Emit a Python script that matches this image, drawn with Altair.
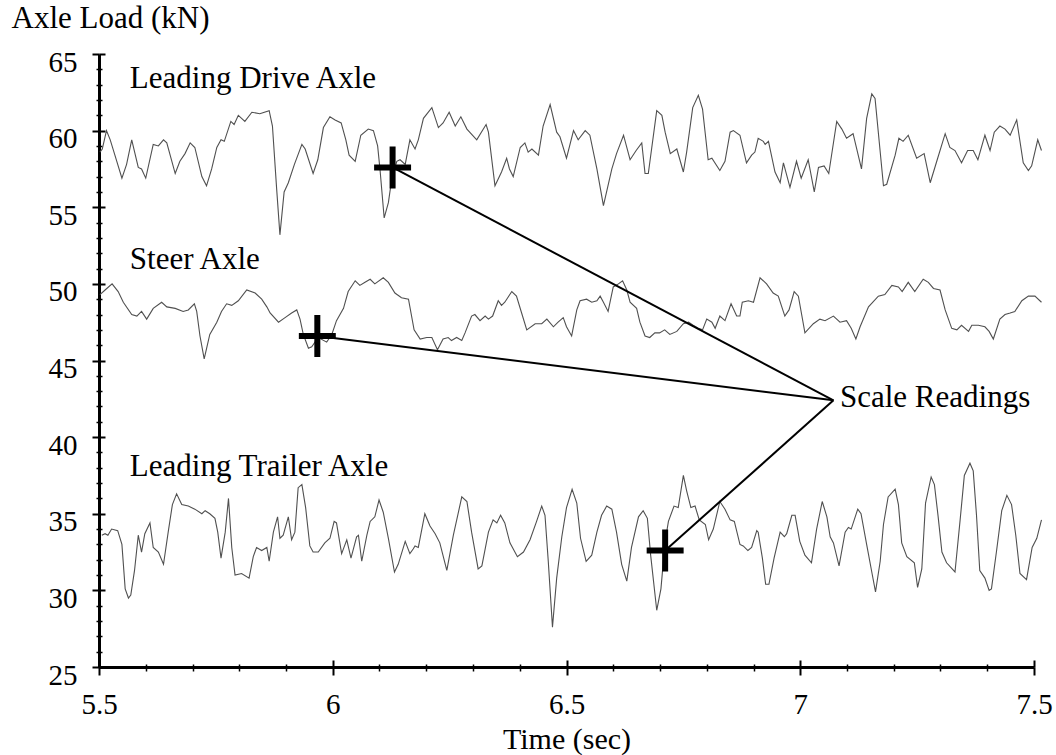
import altair as alt
import pandas as pd

# ---------------- data ----------------
DRIVE = [(5.502,58.6),(5.507,58.8),(5.516,60.0),(5.524,59.4),(5.534,58.4),(5.549,56.9),(5.559,57.8),(5.570,59.4),(5.584,57.6),(5.591,57.5),(5.600,56.9),(5.616,59.1),(5.627,59.0),(5.638,59.4),(5.645,59.2),(5.663,57.2),(5.673,58.0),(5.684,58.5),(5.695,59.2),(5.705,58.9),(5.720,57.0),(5.730,56.4),(5.741,57.5),(5.752,58.9),(5.761,59.4),(5.768,59.3),(5.782,60.6),(5.789,60.4),(5.798,61.0),(5.805,60.8),(5.812,60.6),(5.827,61.2),(5.844,61.1),(5.864,61.3),(5.871,60.3),(5.880,56.2),(5.887,53.2),(5.896,56.0),(5.905,56.6),(5.918,57.8),(5.934,59.1),(5.941,58.8),(5.958,57.2),(5.968,58.1),(5.980,60.2),(5.994,60.9),(6.005,60.7),(6.018,60.5),(6.028,59.4),(6.035,58.4),(6.048,58.0),(6.060,59.7),(6.076,60.1),(6.087,60.0),(6.096,59.0),(6.101,57.5),(6.110,54.3),(6.119,55.3),(6.126,56.8),(6.137,58.0),(6.144,58.1),(6.155,57.8),(6.165,59.4),(6.176,58.8),(6.183,59.4),(6.194,60.8),(6.212,61.5),(6.226,60.2),(6.236,60.5),(6.249,61.2),(6.262,60.3),(6.274,60.9),(6.287,60.1),(6.308,59.4),(6.328,60.4),(6.333,59.9),(6.347,56.4),(6.361,57.3),(6.372,58.2),(6.378,57.5),(6.386,57.0),(6.401,58.9),(6.411,59.2),(6.418,58.6),(6.426,58.8),(6.440,58.4),(6.450,60.3),(6.465,61.7),(6.479,59.9),(6.486,59.6),(6.500,58.2),(6.515,60.0),(6.525,59.4),(6.540,60.0),(6.550,59.7),(6.565,57.5),(6.579,55.1),(6.597,57.5),(6.607,58.5),(6.622,59.7),(6.636,58.1),(6.649,58.7),(6.661,59.2),(6.668,57.2),(6.675,57.2),(6.693,61.3),(6.704,61.0),(6.711,59.9),(6.722,58.5),(6.736,58.8),(6.750,57.3),(6.757,58.6),(6.770,61.5),(6.782,62.3),(6.791,61.4),(6.803,58.1),(6.811,58.2),(6.828,57.4),(6.839,58.0),(6.850,59.9),(6.857,60.0),(6.871,59.7),(6.885,57.9),(6.896,58.4),(6.903,58.6),(6.910,59.5),(6.921,59.3),(6.925,59.1),(6.932,59.3),(6.946,57.3),(6.957,56.6),(6.964,57.9),(6.978,56.3),(6.992,58.0),(7.002,56.9),(7.017,58.1),(7.030,56.0),(7.039,57.6),(7.051,57.7),(7.061,57.2),(7.078,60.6),(7.089,60.1),(7.099,59.5),(7.113,59.8),(7.131,57.5),(7.142,60.8),(7.153,62.4),(7.160,62.1),(7.178,56.4),(7.185,56.5),(7.203,58.4),(7.211,59.5),(7.220,59.3),(7.231,59.7),(7.249,58.2),(7.265,58.5),(7.278,56.6),(7.292,58.0),(7.310,59.8),(7.320,58.9),(7.331,58.7),(7.345,57.9),(7.358,58.7),(7.370,58.7),(7.380,58.1),(7.395,59.7),(7.406,58.7),(7.415,59.9),(7.427,60.3),(7.438,60.1),(7.449,59.7),(7.463,60.7),(7.477,57.9),(7.488,57.4),(7.495,57.7),(7.508,59.4),(7.516,58.7)]

STEER = [(5.502,49.3),(5.513,49.6),(5.528,50.0),(5.541,49.5),(5.552,48.8),(5.570,48.0),(5.581,47.9),(5.591,48.2),(5.602,47.7),(5.616,48.4),(5.634,48.8),(5.645,48.5),(5.663,48.4),(5.680,48.2),(5.691,48.3),(5.704,48.7),(5.709,48.2),(5.716,46.6),(5.725,45.1),(5.737,46.7),(5.752,47.5),(5.762,48.2),(5.773,48.7),(5.784,48.6),(5.798,48.9),(5.816,49.6),(5.834,49.4),(5.848,49.0),(5.859,48.5),(5.866,48.1),(5.884,47.5),(5.898,47.8),(5.912,48.1),(5.923,48.3),(5.930,47.7),(5.937,46.7),(5.948,45.8),(5.955,45.9),(5.969,46.5),(5.987,46.2),(5.998,46.7),(6.008,47.6),(6.023,48.4),(6.033,49.5),(6.048,50.2),(6.058,49.9),(6.069,50.1),(6.080,50.3),(6.090,50.0),(6.108,50.4),(6.119,50.1),(6.133,49.4),(6.147,49.1),(6.162,49.0),(6.174,47.0),(6.187,46.4),(6.201,46.5),(6.212,46.5),(6.224,45.7),(6.236,46.4),(6.247,46.5),(6.254,46.3),(6.265,46.5),(6.276,46.3),(6.283,46.8),(6.297,47.9),(6.304,48.0),(6.315,47.6),(6.326,47.9),(6.333,47.7),(6.342,47.9),(6.354,48.9),(6.361,48.6),(6.368,48.8),(6.383,49.5),(6.393,49.2),(6.404,48.1),(6.415,47.0),(6.433,47.4),(6.447,47.4),(6.458,47.7),(6.472,47.2),(6.482,47.5),(6.493,47.8),(6.500,47.2),(6.511,46.6),(6.522,48.3),(6.529,48.9),(6.543,49.0),(6.554,48.8),(6.565,48.9),(6.572,49.2),(6.579,48.8),(6.589,48.2),(6.600,49.8),(6.611,50.0),(6.620,50.2),(6.629,49.6),(6.636,48.8),(6.650,48.4),(6.657,47.5),(6.668,46.6),(6.678,46.5),(6.689,46.8),(6.699,46.8),(6.710,47.0),(6.721,46.7),(6.736,46.9),(6.750,47.4),(6.761,47.5),(6.771,47.3),(6.782,47.1),(6.791,47.0),(6.800,47.7),(6.811,47.5),(6.818,47.1),(6.828,47.9),(6.839,47.6),(6.852,48.7),(6.864,47.9),(6.871,47.9),(6.876,48.8),(6.889,48.9),(6.900,48.8),(6.914,50.4),(6.928,50.0),(6.942,49.4),(6.953,49.2),(6.967,47.9),(6.976,48.3),(6.987,49.5),(6.996,49.2),(7.010,46.8),(7.028,47.4),(7.042,47.7),(7.053,47.6),(7.071,47.9),(7.085,47.5),(7.099,47.6),(7.109,47.1),(7.119,46.4),(7.128,47.2),(7.146,48.5),(7.167,49.2),(7.181,49.3),(7.196,49.9),(7.210,49.8),(7.218,49.5),(7.231,50.1),(7.245,49.5),(7.263,50.3),(7.274,50.1),(7.285,49.7),(7.299,49.6),(7.310,48.3),(7.324,47.1),(7.335,47.0),(7.345,47.3),(7.360,46.9),(7.367,47.3),(7.381,47.3),(7.395,47.2),(7.404,46.9),(7.413,46.4),(7.427,47.7),(7.438,48.0),(7.449,48.1),(7.459,48.2),(7.474,48.9),(7.488,49.2),(7.502,49.2),(7.516,48.8)]

TRAILER = [(5.506,33.6),(5.513,33.7),(5.519,33.6),(5.527,34.0),(5.540,33.9),(5.549,33.0),(5.556,30.1),(5.563,29.5),(5.568,29.7),(5.576,31.3),(5.584,33.6),(5.591,32.5),(5.598,33.7),(5.609,34.4),(5.616,32.8),(5.627,32.5),(5.638,31.7),(5.648,33.8),(5.657,35.6),(5.666,36.3),(5.677,35.6),(5.691,35.5),(5.705,35.3),(5.720,35.0),(5.727,35.2),(5.737,35.0),(5.748,34.7),(5.754,33.8),(5.761,32.1),(5.770,33.8),(5.777,36.0),(5.784,32.8),(5.791,31.0),(5.805,31.1),(5.821,30.8),(5.830,32.2),(5.837,32.8),(5.848,32.6),(5.859,32.8),(5.864,31.9),(5.873,33.8),(5.882,34.8),(5.887,33.4),(5.894,33.6),(5.905,34.8),(5.912,33.3),(5.919,33.8),(5.926,36.7),(5.934,36.9),(5.942,35.4),(5.951,32.9),(5.958,32.5),(5.969,32.5),(5.983,33.1),(5.994,33.4),(6.003,34.5),(6.008,34.4),(6.019,32.4),(6.030,33.3),(6.039,32.1),(6.051,33.5),(6.055,33.6),(6.062,31.9),(6.073,33.6),(6.080,34.5),(6.090,34.8),(6.099,35.9),(6.108,35.1),(6.119,33.4),(6.132,31.2),(6.140,31.7),(6.155,33.2),(6.165,32.4),(6.172,32.7),(6.176,32.9),(6.183,32.8),(6.197,35.0),(6.208,34.2),(6.219,33.7),(6.229,33.1),(6.244,31.3),(6.258,33.6),(6.276,36.1),(6.287,35.8),(6.297,33.8),(6.311,31.4),(6.319,31.6),(6.333,33.8),(6.343,34.6),(6.351,34.4),(6.359,34.9),(6.368,34.4),(6.379,33.1),(6.395,32.2),(6.408,32.5),(6.422,33.3),(6.436,34.5),(6.447,35.5),(6.454,34.9),(6.461,31.9),(6.470,27.6),(6.479,30.8),(6.490,33.5),(6.500,35.4),(6.512,36.6),(6.522,35.7),(6.530,33.4),(6.542,31.9),(6.554,32.3),(6.565,33.8),(6.575,34.9),(6.586,35.5),(6.597,35.3),(6.607,33.8),(6.618,31.7),(6.629,30.6),(6.639,32.8),(6.654,34.8),(6.664,35.2),(6.673,34.7),(6.680,32.3),(6.693,28.7),(6.702,30.1),(6.711,33.2),(6.718,34.5),(6.730,35.5),(6.739,35.4),(6.750,37.5),(6.757,36.5),(6.766,35.4),(6.775,35.5),(6.784,34.6),(6.797,34.3),(6.804,33.3),(6.814,34.0),(6.828,35.8),(6.839,35.3),(6.850,34.6),(6.859,34.5),(6.871,33.0),(6.878,32.9),(6.888,32.6),(6.896,32.8),(6.907,33.9),(6.910,33.8),(6.919,32.1),(6.926,30.4),(6.933,30.4),(6.944,32.1),(6.957,33.8),(6.966,33.5),(6.971,33.7),(6.982,34.9),(6.989,34.9),(6.999,33.2),(7.010,32.3),(7.024,31.8),(7.035,34.0),(7.047,35.8),(7.057,34.8),(7.064,33.5),(7.071,33.1),(7.083,31.6),(7.096,33.8),(7.103,34.1),(7.109,34.0),(7.123,35.3),(7.130,35.0),(7.142,33.0),(7.153,31.2),(7.161,29.9),(7.171,31.9),(7.178,34.3),(7.188,36.1),(7.203,36.6),(7.210,35.6),(7.217,33.1),(7.228,32.2),(7.244,31.8),(7.251,30.2),(7.260,31.4),(7.268,35.7),(7.280,37.4),(7.287,36.9),(7.295,34.8),(7.303,32.5),(7.313,31.8),(7.331,31.2),(7.342,34.6),(7.351,37.5),(7.363,38.3),(7.370,37.8),(7.377,34.9),(7.384,31.3),(7.395,30.8),(7.404,30.0),(7.409,30.1),(7.420,32.6),(7.431,35.2),(7.442,36.2),(7.452,35.6),(7.461,33.6),(7.470,31.1),(7.484,30.7),(7.496,32.8),(7.506,33.4),(7.516,34.6)]

# scale readings (cross markers) and the point where the call-out lines meet
READINGS = [(6.128, 57.6), (5.967, 46.6), (6.711, 32.6)]
CALLOUT = (7.071, 42.4)

# text labels: (text, time, load)
LABELS = [("Leading Drive Axle", 5.566, 62.75),
          ("Steer Axle", 5.566, 50.95),
          ("Leading Trailer Axle", 5.566, 37.45),
          ("Scale Readings", 7.085, 41.97)]

X_MAJOR = [5.5, 6.0, 6.5, 7.0, 7.5]
X_MINOR = [5.6, 5.7, 5.8, 5.9, 6.1, 6.2, 6.3, 6.4, 6.6, 6.7, 6.8, 6.9, 7.1, 7.2, 7.3, 7.4]
Y_MAJOR = [25, 30, 35, 40, 45, 50, 55, 60, 65]
Y_MINOR = [26, 27, 28, 29, 31, 32, 33, 34, 36, 37, 38, 39, 41, 42, 43, 44,
           46, 47, 48, 49, 51, 52, 53, 54, 56, 57, 58, 59, 61, 62, 63, 64]

# ---------------- build tables ----------------
rows = []
for name, pts in [("Leading Drive Axle", DRIVE), ("Steer Axle", STEER), ("Leading Trailer Axle", TRAILER)]:
    for i, (t, v) in enumerate(pts):
        rows.append({"series": name, "i": i, "t": t, "v": v})
df = pd.DataFrame(rows)

rd = pd.DataFrame(READINGS, columns=["t", "v"])
rd["t2"] = CALLOUT[0]
rd["v2"] = CALLOUT[1]

lab = pd.DataFrame(LABELS, columns=["label", "t", "v"])

W, H = 935, 613
FONT = "Liberation Serif"
xs = alt.Scale(domain=[5.5, 7.5], nice=False, zero=False)
ys = alt.Scale(domain=[25, 65], nice=False, zero=False)

tick_common = dict(grid=False, tickColor="black", domainColor="black")

x_main = alt.Axis(orient="bottom", values=X_MAJOR, format="~g", tickSize=8, tickWidth=2,
                  domainWidth=3, labelFont=FONT, labelFontSize=29, labelColor="black",
                  labelBaseline="alphabetic", labelPadding=38, labelFlush=False, labelOverlap=False,
                  title="Time (sec)", titleFont=FONT, titleFontSize=30, titleFontWeight="normal",
                  titleColor="black", titleBaseline="alphabetic", titleY=81, **tick_common)
y_main = alt.Axis(orient="left", values=Y_MAJOR, format="~g", tickSize=7, tickWidth=2,
                  domainWidth=3, labelFont=FONT, labelFontSize=29, labelColor="black",
                  labelBaseline="alphabetic", labelOffset=17, labelPadding=15, labelFlush=False,
                  labelOverlap=False, title="Axle Load (kN)", titleFont=FONT, titleFontSize=31,
                  titleFontWeight="normal", titleColor="black", titleAngle=0, titleAlign="left",
                  titleBaseline="alphabetic", titleX=-88, titleY=-27, **tick_common)


def ghost_axis(orient, values, size, width, offset=0):
    kw = dict(orient=orient, values=values, tickSize=size, tickWidth=width, domain=False,
              labels=False, title="", **tick_common)
    if offset:
        kw["offset"] = offset
    return alt.Axis(**kw)


def ghost(xa, ya):
    return alt.Chart(df).mark_point(opacity=0).encode(
        x=alt.X("t:Q", scale=xs, axis=xa),
        y=alt.Y("v:Q", scale=ys, axis=ya),
    )


lines = alt.Chart(df).mark_line(stroke="#505050", strokeWidth=1.1).encode(
    x=alt.X("t:Q", scale=xs, axis=x_main),
    y=alt.Y("v:Q", scale=ys, axis=y_main),
    detail="series:N",
    order="i:Q",
)

g_major_in = ghost(ghost_axis("top", X_MAJOR, 7, 2, offset=-H), ghost_axis("right", Y_MAJOR, 6, 2, offset=-W))
g_minor_out = ghost(ghost_axis("bottom", X_MINOR, 4, 1.5), ghost_axis("left", Y_MINOR, 3, 1.5))
g_minor_in = ghost(ghost_axis("top", X_MINOR, 3, 1.5, offset=-H), ghost_axis("right", Y_MINOR, 3, 1.5, offset=-W))

callouts = alt.Chart(rd).mark_rule(color="black", strokeWidth=2).encode(
    x=alt.X("t:Q", scale=xs, axis=None),
    y=alt.Y("v:Q", scale=ys, axis=None),
    x2="t2:Q",
    y2="v2:Q",
)

crosses = alt.Chart(rd).mark_point(shape="M-0.88,0H0.88M0,-1V1", size=1764, filled=False,
                                   color="black", strokeWidth=6, opacity=1).encode(
    x=alt.X("t:Q", scale=xs, axis=None),
    y=alt.Y("v:Q", scale=ys, axis=None),
)

texts = alt.Chart(lab).mark_text(align="left", baseline="alphabetic", font=FONT, fontSize=31,
                                 color="black").encode(
    x=alt.X("t:Q", scale=xs, axis=None),
    y=alt.Y("v:Q", scale=ys, axis=None),
    text="label:N",
)

chart = alt.layer(lines, g_major_in, g_minor_out, g_minor_in, callouts, crosses, texts).resolve_axis(
    x="independent", y="independent"
).properties(
    width=W, height=H,
    autosize=alt.AutoSizeParams(type="none"),
    padding={"left": 99, "top": 54, "right": 22, "bottom": 88},
    background="white",
).configure_view(strokeWidth=0).configure_axis(
    labelFont=FONT, titleFont=FONT
).configure_text(font=FONT)

chart.save("out.html", embed_options={"renderer": "svg", "actions": False})
